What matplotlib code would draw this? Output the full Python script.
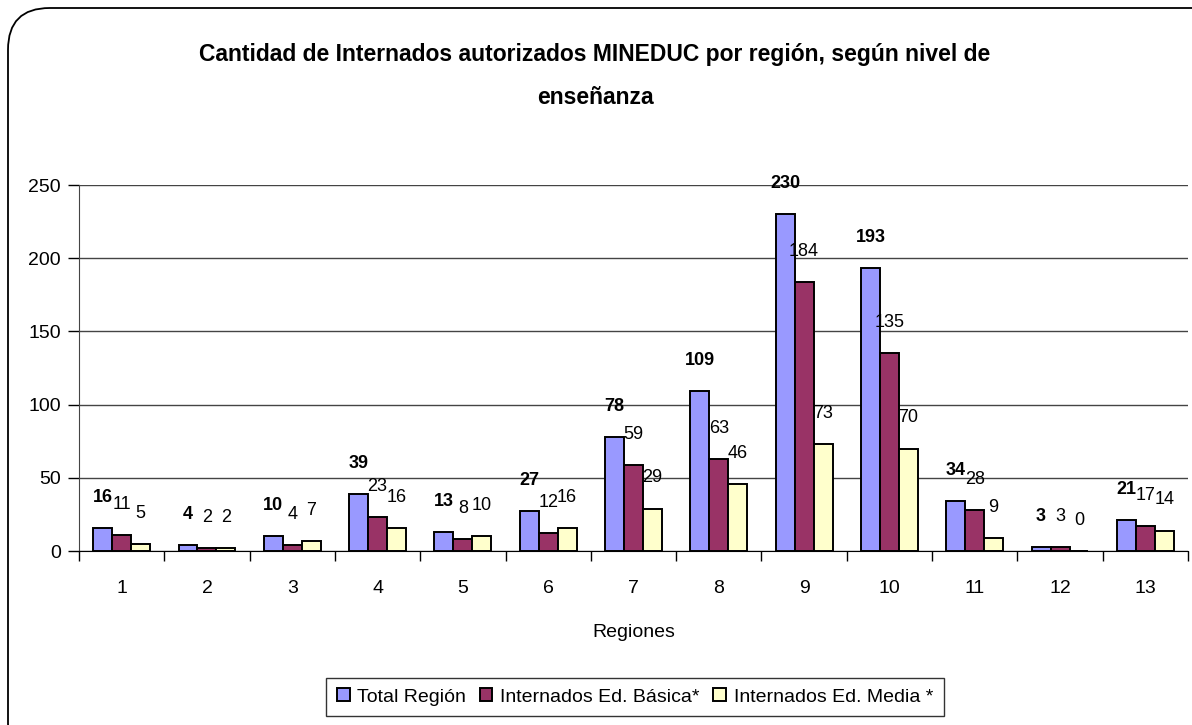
import matplotlib
matplotlib.use('Agg')
import matplotlib.pyplot as plt
from matplotlib.patches import FancyBboxPatch
import numpy as np

plt.rcParams['font.family'] = ['Liberation Sans', 'DejaVu Sans']

regiones = ['1', '2', '3', '4', '5', '6', '7', '8', '9', '10', '11', '12', '13']
total = [16, 4, 10, 39, 13, 27, 78, 109, 230, 193, 34, 3, 21]
basica = [11, 2, 4, 23, 8, 12, 59, 63, 184, 135, 28, 3, 17]
media = [5, 2, 7, 16, 10, 16, 29, 46, 73, 70, 9, 0, 14]
series_names = ['Total Región', 'Internados Ed. Básica*', 'Internados Ed. Media *']
colors = ['#9999FF', '#993366', '#FFFFCC']

W, H = 1192, 725
fig = plt.figure(figsize=(W / 100, H / 100), dpi=100)
fig.patch.set_facecolor('white')

# rounded outer frame (right/bottom edges run off the image)
frame = FancyBboxPatch((8 / W, -40 / H), (W + 40) / W, (H - 8 + 40) / H,
                       boxstyle='round,pad=0,rounding_size=0.035',
                       transform=fig.transFigure, fc='none', ec='black', lw=1.3,
                       mutation_aspect=W / H)
fig.patches.append(frame)

ax = fig.add_axes([79 / W, 1 - 551 / H, (1188 - 79) / W, (551 - 185) / H])
x = np.arange(len(regiones))
bw = 0.222
for k, (vals, col) in enumerate(zip([total, basica, media], colors)):
    pos = x + (k - 1) * bw
    ax.bar(pos, vals, bw, color=col, edgecolor='black', lw=1.4,
           label=series_names[k], zorder=3)
    for px, v in zip(pos, vals):
        ax.annotate(str(v), (px, v), xytext=(0, 22), textcoords='offset points',
                    ha='center', va='center', fontsize=13,
                    fontweight='bold' if k == 0 else 'normal', zorder=4)

ax.set_xlim(-0.5, len(regiones) - 0.5)
ax.set_ylim(0, 250)
ax.set_yticks([0, 50, 100, 150, 200, 250])
ax.yaxis.grid(True, color='#444444', lw=1.0, zorder=0)
ax.set_xticks(x)
ax.set_xticklabels(regiones)
ax.set_xticks(np.arange(-0.5, len(regiones), 1), minor=True)
ax.tick_params(axis='x', which='major', length=0, pad=21, labelsize=14)
ax.tick_params(axis='x', which='minor', length=7, width=1, direction='out')
ax.tick_params(axis='y', length=8, width=1, direction='out', labelsize=14, pad=5)
for s in ['top', 'right']:
    ax.spines[s].set_visible(False)
ax.spines['left'].set_color('#444444')
ax.spines['bottom'].set_color('black')
ax.set_xlabel('Regiones', fontsize=14, labelpad=19)

fig.text(595 / W, 1 - 55 / H, 'Cantidad de Internados autorizados MINEDUC por región, según nivel de',
         ha='center', va='center', fontsize=16.5, fontweight='bold')
fig.text(595 / W, 1 - 98 / H, 'enseñanza', ha='center', va='center',
         fontsize=16.5, fontweight='bold')

leg = fig.legend(loc='center', bbox_to_anchor=(635 / W, 1 - 697 / H), ncol=3,
                 fontsize=14, frameon=True, fancybox=False, edgecolor='black',
                 handlelength=0.65, handleheight=0.65, handletextpad=0.4,
                 columnspacing=0.7, borderpad=0.55)
leg.get_frame().set_linewidth(1.0)

fig.savefig('out.png', dpi=100, facecolor='white')
